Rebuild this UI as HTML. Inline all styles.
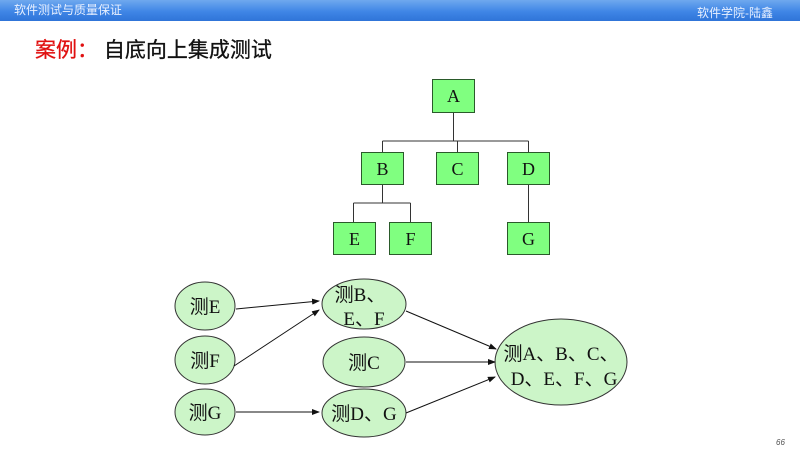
<!DOCTYPE html>
<html><head><meta charset="utf-8"><style>
html,body{margin:0;padding:0;width:800px;height:450px;overflow:hidden;background:#fff;}
.hdr{position:absolute;left:0;top:0;width:800px;height:21px;background:linear-gradient(180deg,#6fa8ee 0%,#3f86e6 55%,#2f74d8 100%);}
.ht{position:absolute;color:#e8f0ff;font:12px "Liberation Sans","Noto Sans CJK SC",sans-serif;top:3px;}
.title{position:absolute;left:35px;top:34px;font:21px "Liberation Sans","Noto Sans CJK SC",sans-serif;color:#111;-webkit-text-stroke:0.3px #111;}
</style></head><body>
<div class="hdr"></div>
<div class="ht" style="left:14px;top:1px;">软件测试与质量保证</div>
<div class="ht" style="left:697px;top:4px;">软件学院-陆鑫</div>
<div class="title"><span style="color:#e01010;-webkit-text-stroke:0.3px #e01010">案例：</span> 自底向上集成测试</div>
<svg width="800" height="450" style="position:absolute;left:0;top:0" font-family="Liberation Serif, Noto Serif CJK SC, serif">
<defs><marker id="ar" markerWidth="8" markerHeight="6" refX="7" refY="3" orient="auto" markerUnits="userSpaceOnUse"><path d="M0,0 L8,3 L0,6 z" fill="#111"/></marker></defs>
<g stroke="#333" stroke-width="1" fill="none">
<path d="M453.5,112 V141 M382.5,141 H528.5 M382.5,141 V152 M457.5,141 V152 M528.5,141 V152"/>
<path d="M382.5,184 V203 M353.5,203 H410.5 M353.5,203 V222 M410.5,203 V222"/>
<path d="M528.5,184 V222"/>
</g>
<g fill="#80ff80" stroke="#2a5a2a" stroke-width="1">
<rect x="432.5" y="79.5" width="42" height="33"/>
<rect x="361.5" y="152.5" width="42" height="32"/>
<rect x="436.5" y="152.5" width="42" height="32"/>
<rect x="507.5" y="152.5" width="42" height="32"/>
<rect x="333.5" y="222.5" width="42" height="32"/>
<rect x="389.5" y="222.5" width="42" height="32"/>
<rect x="507.5" y="222.5" width="42" height="32"/>
</g>
<g font-size="18" text-anchor="middle" fill="#111">
<text x="453.5" y="102">A</text><text x="382.5" y="175">B</text><text x="457.5" y="175">C</text><text x="528.5" y="175">D</text>
<text x="354.5" y="245">E</text><text x="410.5" y="245">F</text><text x="528.5" y="245">G</text>
</g>
<g fill="#ccf5c8" stroke="#333" stroke-width="1">
<ellipse cx="205" cy="306" rx="30" ry="24"/>
<ellipse cx="205" cy="360" rx="30" ry="24"/>
<ellipse cx="205" cy="412" rx="30" ry="23"/>
<ellipse cx="364" cy="304" rx="42" ry="25"/>
<ellipse cx="364" cy="362" rx="41" ry="25"/>
<ellipse cx="364" cy="413" rx="42" ry="24"/>
<ellipse cx="561" cy="362" rx="66" ry="43"/>
</g>
<g stroke="#111" stroke-width="1" marker-end="url(#ar)">
<line x1="236" y1="309" x2="319" y2="301"/>
<line x1="234" y1="366" x2="319" y2="310"/>
<line x1="236" y1="412" x2="319" y2="412"/>
<line x1="406" y1="311" x2="496" y2="349"/>
<line x1="406" y1="362" x2="495" y2="362"/>
<line x1="406" y1="413" x2="495" y2="377"/>
</g>
<g font-size="19" text-anchor="middle" fill="#111" font-family="Liberation Serif, Noto Sans CJK SC, serif">
<text x="205" y="313">测E</text><text x="205" y="367">测F</text><text x="205" y="419">测G</text>
<text x="360" y="301">测B、</text><text x="364" y="325">E、F</text>
<text x="364" y="369">测C</text><text x="364" y="420">测D、G</text>
<text x="561" y="360">测A、B、C、</text><text x="564" y="385">D、E、F、G</text>
</g>
<text x="776" y="445" font-size="8" font-style="italic" fill="#555" font-family="Liberation Sans, sans-serif">66</text>
</svg>
</body></html>
